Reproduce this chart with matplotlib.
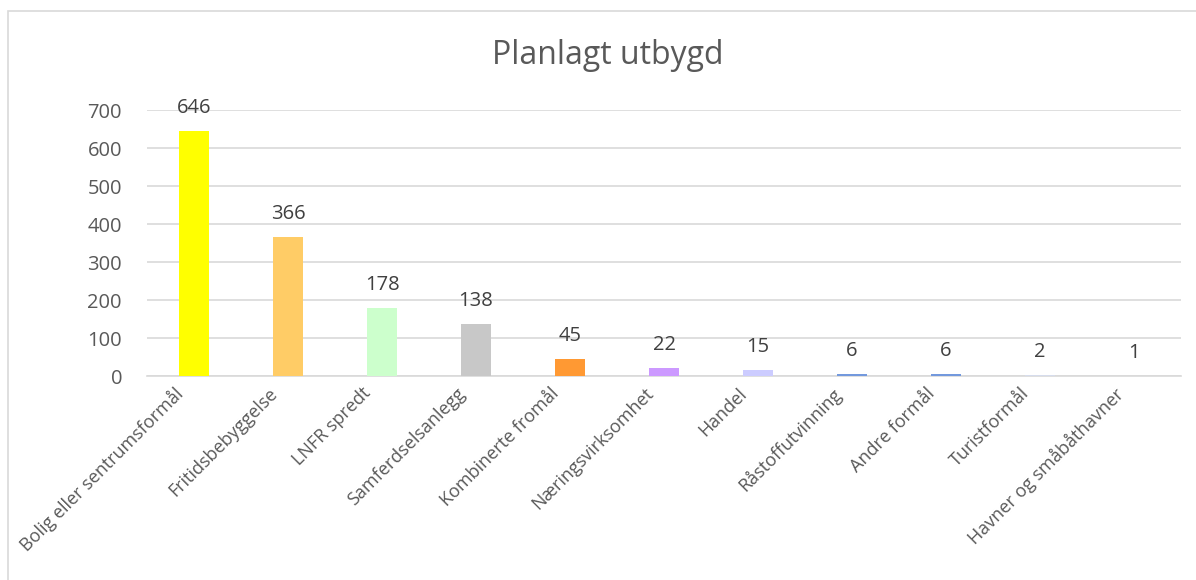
import matplotlib.pyplot as plt
import matplotlib.transforms as mtransforms
from matplotlib.patches import Rectangle

plt.rcParams['font.family'] = ['Open Sans', 'DejaVu Sans']

categories = ['Bolig eller sentrumsformål', 'Fritidsbebyggelse', 'LNFR spredt',
              'Samferdselsanlegg', 'Kombinerte fromål', 'Næringsvirksomhet',
              'Handel', 'Råstoffutvinning', 'Andre formål', 'Turistformål',
              'Havner og småbåthavner']
values = [646, 366, 178, 138, 45, 22, 15, 6, 6, 2, 1]
colors = ['#FFFF00', '#FFCC66', '#CCFFCC', '#C8C8C8', '#FF9933', '#CC99FF',
          '#CCCCFF', '#7399DD', '#7399DD', '#D6DCEC', '#E8E8F0']
yticks = [0, 100, 200, 300, 400, 500, 600, 700]

grey = '#595959'

fig = plt.figure(figsize=(11.96, 5.8), dpi=100)
# chart border (left and top visible)
fig.patches.append(Rectangle((8 / 1196, -0.1), 1.2, 1 - 11 / 580 + 0.1,
                             transform=fig.transFigure, fill=False,
                             edgecolor='#D9D9D9', linewidth=1.2))

ax = fig.add_axes([147 / 1196, 1 - 376 / 580, (1181 - 147) / 1196, (376 - 110) / 580])

x = range(len(categories))
bars = ax.bar(x, values, width=0.32, color=colors, zorder=3)
for xi, v in zip(x, values):
    ax.text(xi, v + 34, str(v), ha='center', va='bottom', fontsize=14.5, color='#404040')

ax.set_xlim(-0.5, len(categories) - 0.5)
ax.set_ylim(0, 700)
ax.set_yticks(yticks)
ax.yaxis.grid(True, color='#D9D9D9', linewidth=1.2, zorder=0)
ax.tick_params(axis='y', length=0, labelsize=14.5, labelcolor=grey, pad=18)
ax.tick_params(axis='x', length=0, labelsize=13, labelcolor=grey, pad=6)
ax.set_xticks(list(x))
ax.set_xticklabels(categories, rotation=45, ha='right', rotation_mode='anchor')
shift = mtransforms.ScaledTranslation(-20 / 100, 0, fig.dpi_scale_trans)
for lbl in ax.get_xticklabels():
    lbl.set_transform(lbl.get_transform() + shift)
for s in ['top', 'right', 'left']:
    ax.spines[s].set_visible(False)
ax.spines['bottom'].set_color('#D9D9D9')
ax.spines['bottom'].set_linewidth(1.2)

fig.text(608 / 1196, 1 - 55 / 580, 'Planlagt utbygd', ha='center', va='center',
         fontsize=23, color=grey)

fig.savefig('out.png', dpi=100)
